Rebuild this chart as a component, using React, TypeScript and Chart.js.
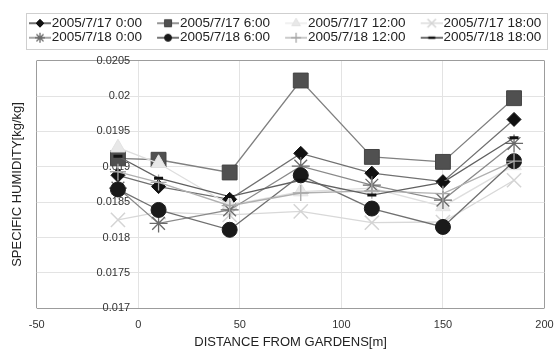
import React, { useEffect, useRef } from 'react';
import { Chart, registerables } from 'chart.js';
import { drawPoint } from 'chart.js/helpers';

Chart.register(...registerables);

// ---- data ----
const distances = [-10, 10, 45, 80, 115, 150, 185];
const seriesLabels = [
  '2005/7/17 0:00',
  '2005/7/17 6:00',
  '2005/7/17 12:00',
  '2005/7/17 18:00',
  '2005/7/18 0:00',
  '2005/7/18 6:00',
  '2005/7/18 12:00',
  '2005/7/18 18:00',
];
const s17_00 = [0.01888, 0.01872, 0.01854, 0.01919, 0.01891, 0.01879, 0.01967];
const s17_06 = [0.01912, 0.0191, 0.01892, 0.02022, 0.01914, 0.01907, 0.01997];
const s17_12 = [0.01927, 0.01905, 0.01846, 0.01865, 0.0187, 0.01844, 0.01902];
const s17_18 = [0.01825, 0.01836, 0.01832, 0.01837, 0.01821, 0.01822, 0.01881];
const s18_00 = [0.0187, 0.0182, 0.01839, 0.01901, 0.01874, 0.01853, 0.01933];
const s18_06 = [0.01868, 0.01839, 0.01811, 0.01888, 0.01841, 0.01815, 0.01908];
const s18_12 = [0.01893, 0.01878, 0.01845, 0.01863, 0.01866, 0.01862, 0.01908];
const s18_18 = [0.01915, 0.01884, 0.01858, 0.01881, 0.0186, 0.01878, 0.01941];
const seriesValues = [s17_00, s17_06, s17_12, s17_18, s18_00, s18_06, s18_12, s18_18];

const xMin = -50;
const xMax = 200;
const xStep = 50;
const yMin = 0.017;
const yMax = 0.0205;
const yStep = 0.0005;
const yAxisAt = -4; // y tick labels sit just left of x = 0
const xTitle = 'DISTANCE FROM GARDENS[m]';
const yTitle = 'SPECIFIC HUMIDITY[kg/kg]';

// ---- styles ----
const markerStyles = [
  { pointStyle: 'rectRot', radius: 7, fill: '#111111', stroke: '#111111', line: '#707070', bw: 1, lr: 4 },
  { pointStyle: 'rect', radius: 10.5, fill: '#505050', stroke: '#444444', line: '#808080', bw: 1, lr: 5 },
  { pointStyle: 'triangle', radius: 8.5, fill: '#e8e8e8', stroke: '#e2e2e2', line: '#dedede', bw: 1, lr: 5 },
  { pointStyle: 'crossRot', radius: 10, fill: '#d4d4d4', stroke: '#d4d4d4', line: '#d8d8d8', bw: 1.5, lr: 6 },
  { pointStyle: 'star', radius: 9, fill: '#6a6a6a', stroke: '#6a6a6a', line: '#8a8a8a', bw: 1.3, lr: 5 },
  { pointStyle: 'circle', radius: 7.5, fill: '#1a1a1a', stroke: '#1a1a1a', line: '#707070', bw: 1, lr: 3.5 },
  { pointStyle: 'cross', radius: 8, fill: '#a8a8a8', stroke: '#a8a8a8', line: '#b0b0b0', bw: 1.3, lr: 5 },
  { pointStyle: 'line', radius: 4.5, fill: '#111111', stroke: '#111111', line: '#606060', bw: 3, lr: 3.5 },
];

const FONT = "'Liberation Sans', Arial, sans-serif";
const LEG_FS = 13.5;
const LEG_BOX = 30.25;
const ICON_W = 42;
const ICON_H = 14;

function makeIcon(st: any): HTMLCanvasElement {
  const c = document.createElement('canvas');
  c.width = ICON_W;
  c.height = ICON_H;
  const g = c.getContext('2d')!;
  g.strokeStyle = st.fill;
  g.lineWidth = 1.2;
  g.beginPath();
  g.moveTo(20, ICON_H / 2);
  g.lineTo(42, ICON_H / 2);
  g.stroke();
  g.fillStyle = st.fill;
  g.strokeStyle = st.stroke;
  g.lineWidth = st.pointStyle === 'line' ? 2.5 : st.bw;
  drawPoint(g as any, { pointStyle: st.pointStyle, rotation: 0, radius: st.lr, borderWidth: g.lineWidth } as any, 31, ICON_H / 2);
  return c;
}

const legendBoxPlugin = {
  id: 'legendBox',
  afterDraw(chart: any) {
    const hb = chart.legend && chart.legend.legendHitBoxes;
    if (!hb || !hb.length) return;
    let l = Infinity, r = -Infinity, t = Infinity, b = -Infinity;
    hb.forEach((h: any) => {
      l = Math.min(l, h.left);
      r = Math.max(r, h.left + h.width);
      t = Math.min(t, h.top);
      b = Math.max(b, h.top + h.height);
    });
    const ctx = chart.ctx;
    ctx.save();
    ctx.strokeStyle = '#cfcfcf';
    ctx.lineWidth = 1;
    const x0 = Math.round(l + 11) + 0.5;
    const y0 = Math.round(t - 4) + 0.5;
    const x1 = Math.round(r + 6) + 0.5;
    const y1 = Math.round(b + 4) + 0.5;
    ctx.strokeRect(x0, y0, x1 - x0, y1 - y0);
    ctx.restore();
  },
};

const near = (a: number, b: number) => Math.abs(a - b) < 1e-9;

export default function App() {
  const ref = useRef<HTMLCanvasElement | null>(null);

  useEffect(() => {
    if (!ref.current) return;
    const icons = markerStyles.map(makeIcon);
    const datasets = seriesLabels.map((label, i) => {
      const st = markerStyles[i];
      return {
        label,
        data: distances.map((x, j) => ({ x, y: seriesValues[i][j] })),
        borderColor: st.line,
        backgroundColor: st.fill,
        borderWidth: 1.3,
        pointStyle: st.pointStyle,
        pointRadius: st.radius,
        pointHoverRadius: st.radius,
        pointBackgroundColor: st.fill,
        pointBorderColor: st.stroke,
        pointBorderWidth: st.bw,
        tension: 0,
        fill: false,
        order: -i,
      };
    });

    const chart = new Chart(ref.current, {
      type: 'line',
      data: { datasets } as any,
      plugins: [legendBoxPlugin],
      options: {
        animation: false,
        responsive: false,
        devicePixelRatio: 1,
        font: { family: FONT },
        layout: { padding: { top: 15.5, left: 0, right: 0, bottom: 0 } },
        plugins: {
          tooltip: { enabled: false },
          title: {
            display: true,
            text: '',
            weight: 500,
            padding: { top: 0, bottom: 6.2 },
            font: { size: 1, lineHeight: 0 },
          } as any,
          legend: {
            display: true,
            position: 'top',
            labels: {
              usePointStyle: true,
              pointStyleWidth: LEG_BOX,
              padding: 1,
              color: '#222',
              font: { size: LEG_FS, family: FONT },
              sort: (a: any, b: any) => a.datasetIndex - b.datasetIndex,
              generateLabels: (c: any) => {
                const items = (Chart.defaults.plugins.legend.labels as any).generateLabels(c);
                return items.map((it: any) => ({ ...it, pointStyle: icons[it.datasetIndex], lineWidth: 0 }));
              },
            },
          },
        },
        scales: {
          x: {
            type: 'linear',
            min: xMin,
            max: xMax,
            ticks: { stepSize: xStep, padding: 0, color: '#333', font: { size: 11, family: FONT } },
            grid: {
              color: (ctx: any) => (ctx.tick && (near(ctx.tick.value, xMin) || near(ctx.tick.value, xMax)) ? '#9c9c9c' : '#e3e3e3'),
              tickColor: 'rgba(0,0,0,0)',
              tickLength: 10,
              drawTicks: true,
            },
            border: { display: false },
            title: {
              display: true,
              text: xTitle,
              color: '#222',
              font: { size: 13, lineHeight: 1, family: FONT },
              padding: { top: 4.5, bottom: 0 },
            },
          },
          y: {
            type: 'linear',
            position: { x: yAxisAt } as any,
            min: yMin,
            max: yMax,
            ticks: {
              stepSize: yStep,
              padding: 8,
              color: '#333',
              font: { size: 11, family: FONT },
              callback: (v: any) => String(Number(Number(v).toFixed(4))),
            },
            grid: {
              color: (ctx: any) => (ctx.tick && (near(ctx.tick.value, yMin) || near(ctx.tick.value, yMax)) ? '#9c9c9c' : '#e3e3e3'),
              drawTicks: false,
            },
            border: { display: false },
          },
          yt: {
            type: 'linear',
            position: 'left',
            min: 0,
            max: 1,
            ticks: { display: false },
            grid: { display: false, drawTicks: false },
            border: { display: false },
            title: {
              display: true,
              text: yTitle,
              color: '#222',
              font: { size: 13, lineHeight: 1, family: FONT },
              padding: { top: 11, bottom: 12.7 },
            },
          },
        },
      } as any,
    });
    return () => chart.destroy();
  }, []);

  return (
    <div style={{ position: 'absolute', left: 0, top: 0, width: 556, height: 349, background: '#fff' }}>
      <canvas ref={ref} width={556} height={349} style={{ display: 'block' }} />
    </div>
  );
}
